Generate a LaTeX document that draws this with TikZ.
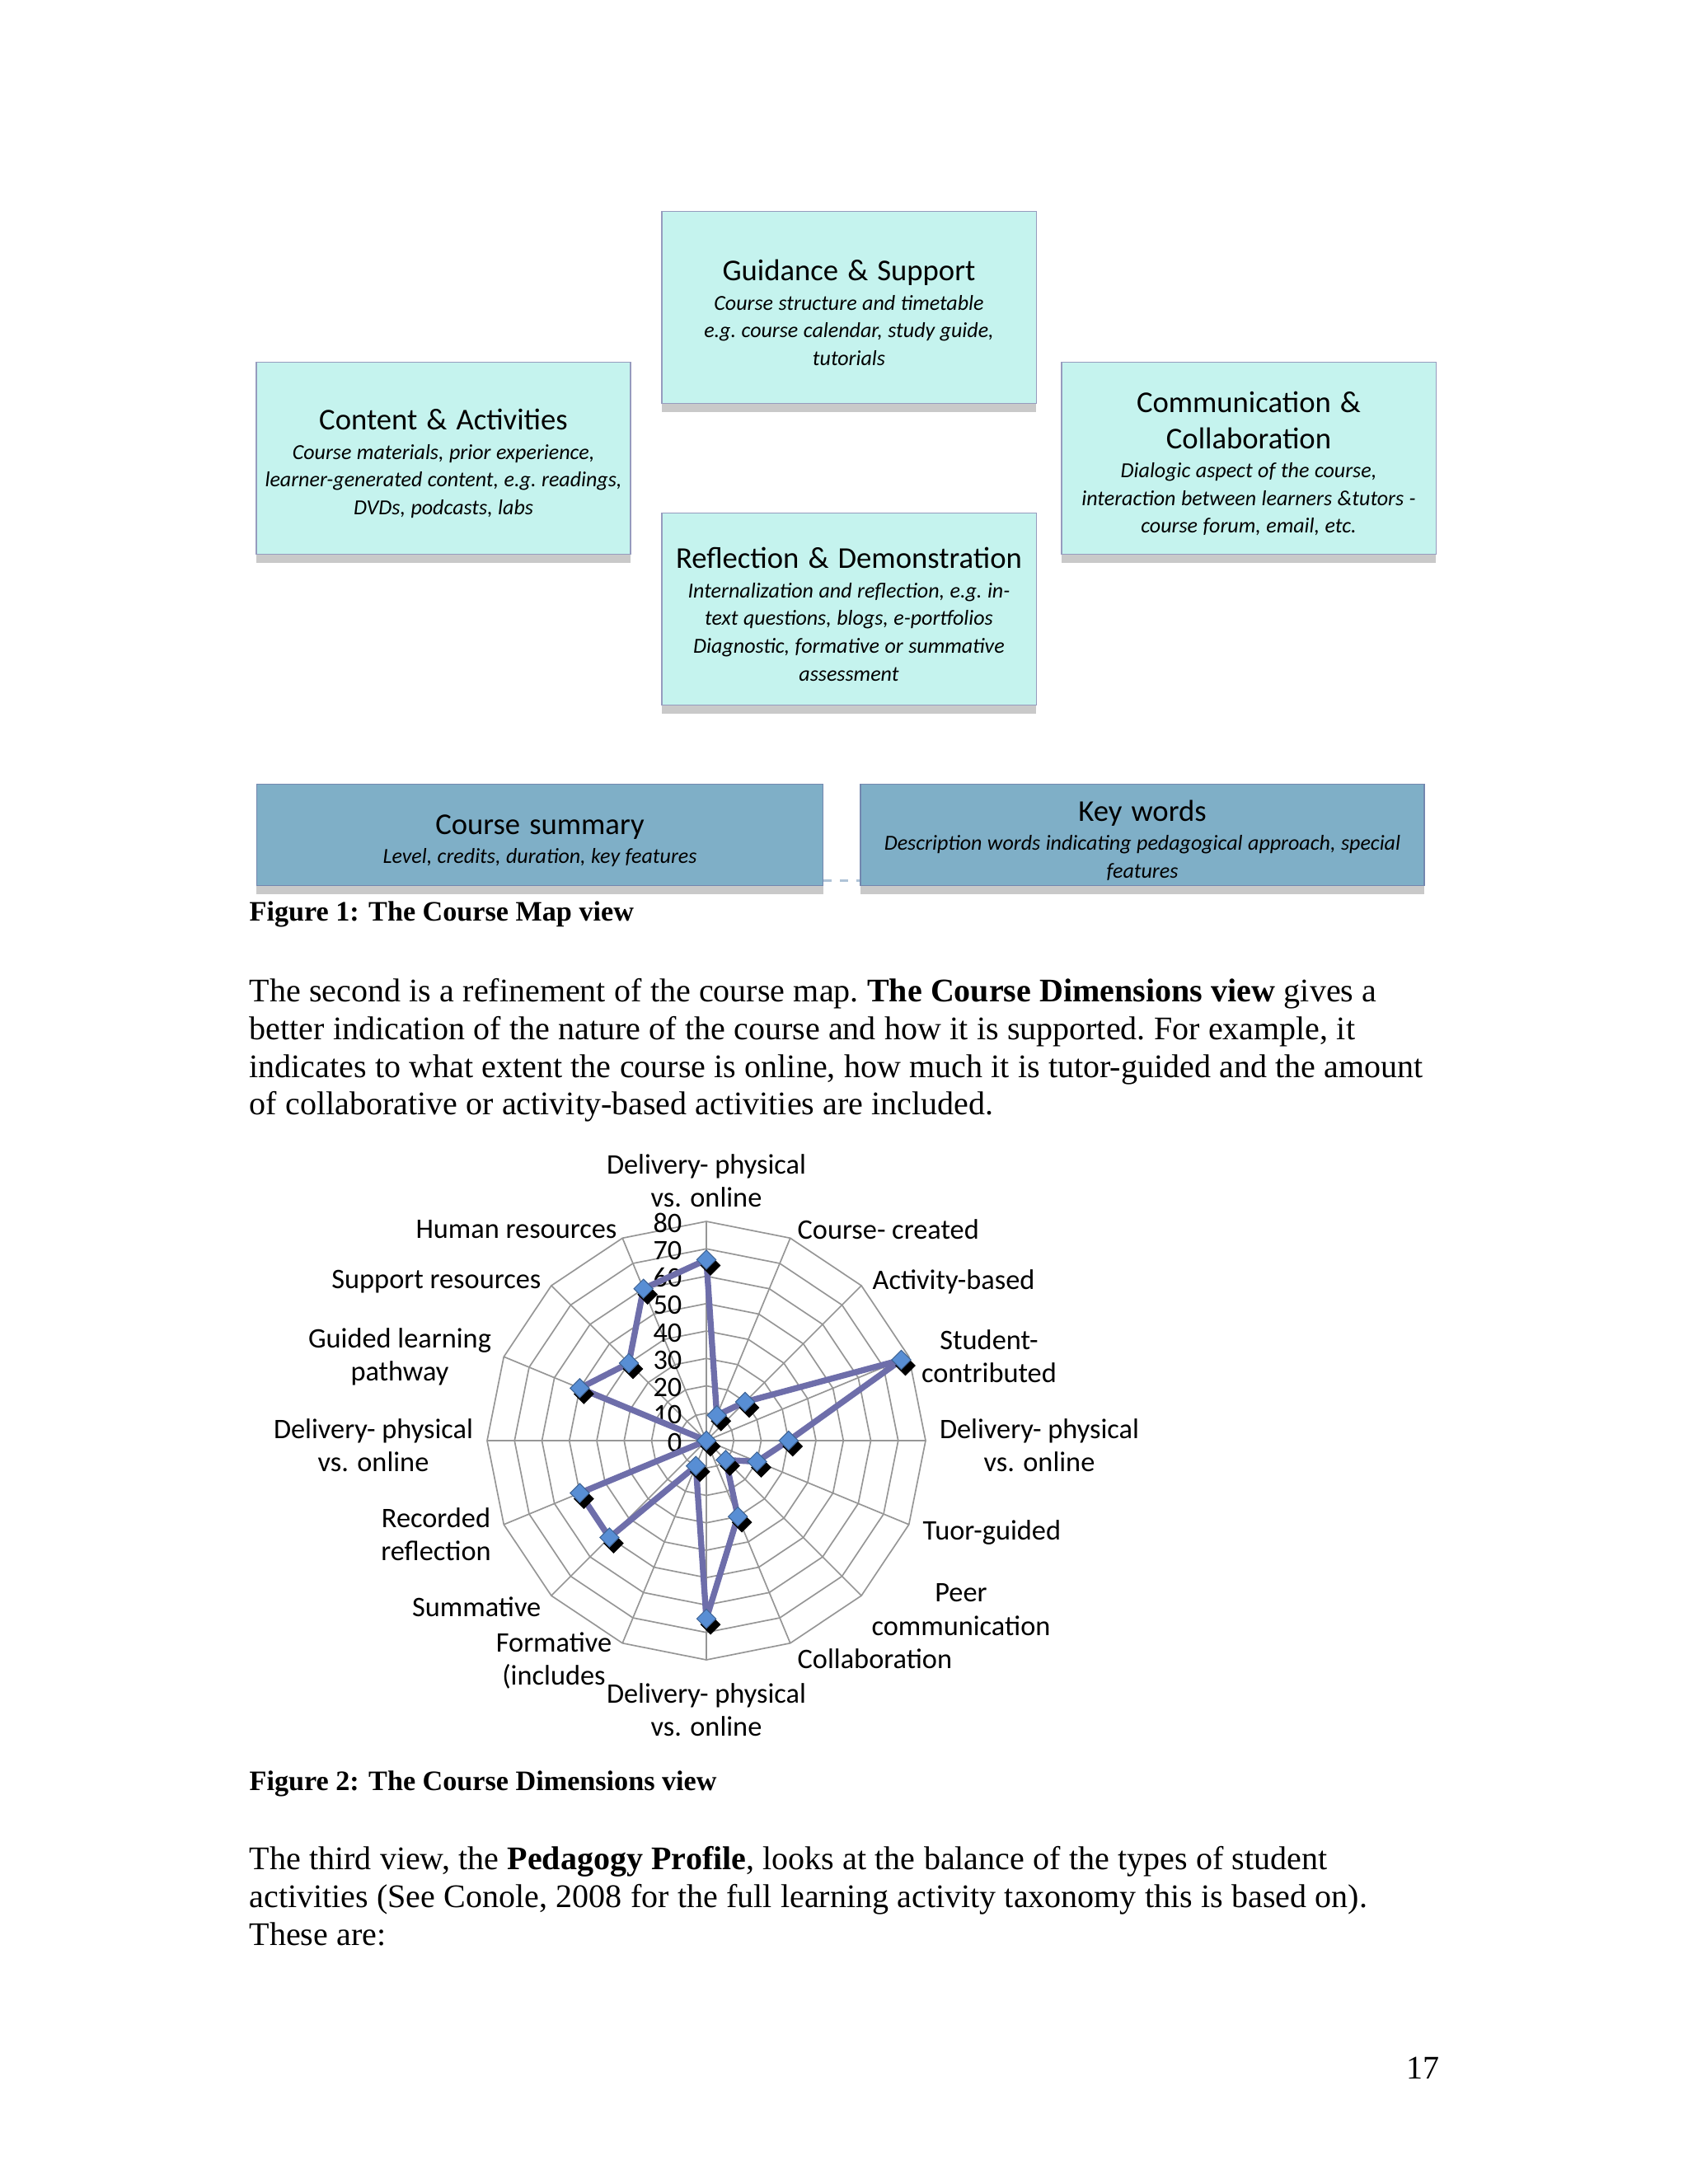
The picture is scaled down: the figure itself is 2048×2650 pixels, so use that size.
\documentclass[tikz,border=0pt]{standalone}
\usepackage{fontspec}
\setmainfont{Liberation Serif}
\newfontfamily\chartfont{Carlito}
\usetikzlibrary{shapes.geometric,shadows}

\definecolor{boxfill}{RGB}{197,243,238}
\definecolor{boxline}{RGB}{150,155,190}
\definecolor{keyfill}{RGB}{127,175,199}
\definecolor{keyline}{RGB}{115,135,175}
\definecolor{seriesblue}{RGB}{110,110,170}
\definecolor{markblue}{RGB}{88,142,212}
\definecolor{gridgray}{RGB}{150,150,150}

\newcommand{\maptitle}[1]{{\chartfont\fontsize{11}{13.1}\selectfont\rule{0pt}{11.5pt}#1\par}\vspace{0.5pt}}
\newcommand{\mapsub}[1]{{\chartfont\itshape\fontsize{7.8}{10.1}\selectfont\frenchspacing\spaceskip=0.25em\relax #1\par}}
\newcommand{\bodyspace}{\frenchspacing\spaceskip=3.1pt plus 1pt minus 0.5pt\relax}

\begin{document}
\begin{tikzpicture}[x=0.010542cm, y=-0.010542cm,
  mapbox/.style={draw=boxline, fill=boxfill, minimum width=4.79cm, minimum height=2.46cm,
    text width=4.75cm, align=center, inner sep=0pt,
    drop shadow={shadow xshift=0pt, shadow yshift=-3pt, opacity=0.35, fill=black!60}},
  keybox/.style={mapbox, draw=keyline, fill=keyfill, minimum width=7.25cm, minimum height=1.30cm, text width=7.1cm},
  bodytext/.style={font=\fontsize{12}{13.7}\selectfont, text width=16cm, align=left, inner sep=0pt},
  captext/.style={font=\bfseries\fontsize{10.25}{12}\selectfont, inner sep=0pt},
  axislabel/.style={font=\chartfont\fontsize{10.3}{12.1}\selectfont, align=center, inner sep=0pt},
  ticklabel/.style={axislabel, anchor=east},
  gridline/.style={draw=gridgray, line width=0.5pt},
  seriesline/.style={draw=seriesblue, line width=2.2pt, line join=round},
  marker/.style={diamond, aspect=1, minimum size=0.25cm, inner sep=0pt, fill=markblue, draw=markblue!70!black, line width=0.3pt},
  markshadow/.style={marker, fill=black, draw=black}]

  \fill[white] (0,0) rectangle (2048,2650);
  \useasboundingbox (0,0) rectangle (2048,2650);

  % course map
  \node[mapbox] (guide) at (1030,373) {\maptitle{Guidance \& Support}\mapsub{Course structure and timetable\\e.g. course calendar, study guide,\\tutorials}};
  \node[mapbox] (content) at (538,556) {\maptitle{Content \& Activities}\mapsub{Course materials, prior experience,\\learner-generated content, e.g. readings,\\DVDs, podcasts, labs}};
  \node[mapbox] (comm) at (1515,556) {\maptitle{Communication \&\\Collaboration}\mapsub{Dialogic aspect of the course,\\interaction between learners \&tutors -\\course forum, email, etc.}};
  \node[mapbox] (reflect) at (1030,739) {\maptitle{Reflection \& Demonstration}\mapsub{Internalization and reflection, e.g. in-\\text questions, blogs, e-portfolios\\Diagnostic, formative or summative\\assessment}};
  \node[keybox] (summary) at (655,1013) {\maptitle{Course summary}\mapsub{Level, credits, duration, key features}};
  \node[keybox, minimum width=7.21cm] (keys) at (1386,1013) {\maptitle{Key words}\mapsub{Description words indicating pedagogical approach, special\\features}};
  \draw[dashed, color={rgb,255:red,175;green,195;blue,215}, line width=0.8pt] ([yshift=2pt]summary.south east) -- ([yshift=2pt]keys.south west);

  \node[captext, anchor=base west] (cap1) at (302,1117) {Figure 1: The Course Map view};
  \node[bodytext, anchor=north west] (par1) at (302,1187) {\bodyspace The second is a refinement of the course map. \textbf{The Course Dimensions view} gives a\\better indication of the nature of the course and how it is supported. For example, it\\indicates to what extent the course is online, how much it is tutor-guided and the amount\\of collaborative or activity-based activities are included.};

  % course dimensions radar
  \begin{scope}[shift={(857,1748)}]
    \foreach \k in {1,...,8}
      \draw[gridline] (-90:{33.25*\k}) \foreach \j in {1,...,15}{ -- ({-90+22.5*\j}:{33.25*\k}) } -- cycle;
    \foreach \j in {0,...,15}
      \draw[gridline] (0,0) -- ({-90+22.5*\j}:266);
    \foreach \k [evaluate=\k as \val using int(10*\k)] in {0,...,8}
      \node[ticklabel] (t\k) at (-29,{2-33.25*\k}) {\val};
    \foreach \v [count=\i from 0] in {66,10,20,77,30,20,10,30,65,10,50,50,0,50,40,60}
      \coordinate (d\i) at ({-90+22.5*\i}:{3.325*\v});
    \draw[seriesline] (d0) \foreach \i in {1,...,15}{ -- (d\i) } -- cycle;
    \foreach \i in {0,...,15} {
      \node[markshadow] (s\i) at ([shift={(5,7)}]d\i) {};
      \node[marker] (m\i) at (d\i) {};
    }
  \end{scope}

  \node[axislabel] (a0) at (857,1433) {Delivery- physical\\vs. online};
  \node[axislabel, anchor=west] (a1) at (967,1492) {Course- created};
  \node[axislabel, anchor=west] (a2) at (1058,1555) {Activity-based};
  \node[axislabel] (a3) at (1200,1646) {Student-\\contributed};
  \node[axislabel] (a4) at (1261,1754) {Delivery- physical\\vs. online};
  \node[axislabel, anchor=west] (a5) at (1119,1860) {Tuor-guided};
  \node[axislabel] (a6) at (1166,1953) {Peer\\communication};
  \node[axislabel, anchor=west] (a7) at (967,2013) {Collaboration};
  \node[axislabel] (a8) at (857,2075) {Delivery- physical\\vs. online};
  \node[axislabel] (a9) at (672,2015) {Formative\\(includes};
  \node[axislabel, anchor=east] (a10) at (657,1950) {Summative};
  \node[axislabel] (a11) at (529,1862) {Recorded\\reflection};
  \node[axislabel] (a12) at (453,1754) {Delivery- physical\\vs. online};
  \node[axislabel] (a13) at (485,1646) {Guided learning\\pathway};
  \node[axislabel, anchor=east] (a14) at (657,1555) {Support resources};
  \node[axislabel, anchor=east] (a15) at (749,1492) {Human resources};

  \node[captext, anchor=base west] (cap2) at (302,2172) {Figure 2: The Course Dimensions view};
  \node[bodytext, anchor=north west] (par2) at (302,2240) {\bodyspace The third view, the \textbf{Pedagogy Profile}, looks at the balance of the types of student\\activities (See Conole, 2008 for the full learning activity taxonomy this is based on).\\These are:};

  \node[font=\fontsize{12}{14}\selectfont, inner sep=0pt, anchor=base east] (pnum) at (1747,2522) {17};
\end{tikzpicture}
\end{document}
